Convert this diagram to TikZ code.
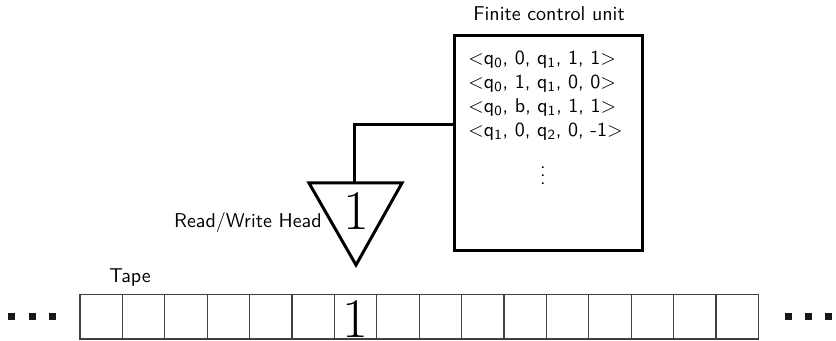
\documentclass[tikz,border=0pt]{standalone}
\usetikzlibrary{calc}
\begin{document}
\begin{tikzpicture}[x=0.5pt,y=-0.5pt, font=\sffamily,
  thickline/.style={line width=1.5pt},
  cell/.style={draw=black!75, line width=0.6pt, minimum width=21.2pt, minimum height=22.3pt, inner sep=0pt, outer sep=0pt},
  bigone/.style={font=\rmfamily\fontsize{28}{28}\selectfont, inner sep=0pt},
  rule/.style={anchor=base west, inner sep=0pt},
  dotsq/.style={fill=black!90, minimum size=3.5pt, inner sep=0pt}]
\useasboundingbox (0,0) rectangle (836,341);
% finite control unit
\node[draw, line width=1.5pt, minimum width=94pt, minimum height=107.5pt, inner sep=0pt, anchor=north west] (box) at (453,34) {};
\node[anchor=base, inner sep=0pt] (title) at (549,21) {Finite control unit};
\node[rule] (r1) at (468,65) {<q\textsubscript{0}, 0, q\textsubscript{1}, 1, 1>};
\node[rule] (r2) at (468,89) {<q\textsubscript{0}, 1, q\textsubscript{1}, 0, 0>};
\node[rule] (r3) at (468,113) {<q\textsubscript{0}, b, q\textsubscript{1}, 1, 1>};
\node[rule] (r4) at (468,137) {<q\textsubscript{1}, 0, q\textsubscript{2}, 0, -1>};
\node[inner sep=0pt] (vd) at (543,170) {$\vdots$};
% head
\coordinate (hl) at (309,183);
\coordinate (hr) at (402,183);
\coordinate (ha) at (356,265);
\coordinate (htop) at (354.5,183);
\coordinate (joint) at (0,125);
\draw[thickline, line join=miter] (hl) -- (hr) -- (ha) -- cycle;
\node[bigone, anchor=base] (hone) at (356,230) {1};
\draw[thickline] (htop) |- (box.west |- joint);
\node[anchor=base east, inner sep=0pt] (hlabel) at (322,228) {Read/Write Head};
% tape
\foreach \i in {0,...,15}{
  \node[cell] (c\i) at ({80+42.4*(\i+0.5)},316.7) {};
}
\node[bigone, anchor=base] (tone) at (c6.center |- 0,338) {1};
\node[anchor=base, inner sep=0pt] (tlabel) at (130,283) {Tape};
% dots
\foreach \x/\n in {11.5/a,32.5/b,52/c,788.5/d,808.5/e,828.5/f}{
  \node[dotsq] (d\n) at (\x,317) {};
}
\end{tikzpicture}
\end{document}
